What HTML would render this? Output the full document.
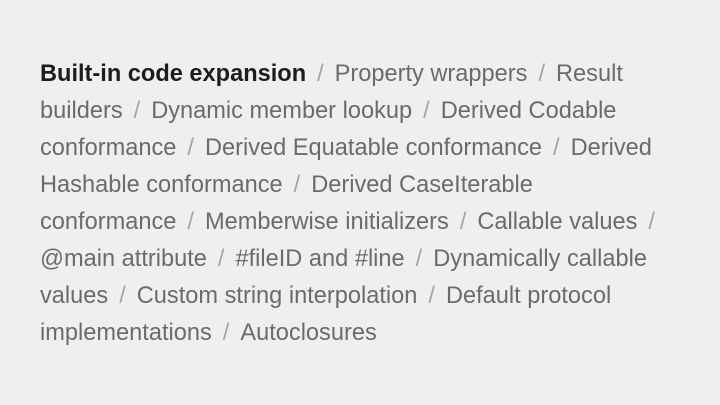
<!DOCTYPE html>
<html><head><style>
html,body{margin:0;padding:0;}
body{width:720px;height:405px;background:#efefef;position:relative;overflow:hidden;font-family:"Liberation Sans",sans-serif;font-size:23.6px;color:#6b6b6b;}
.l{position:absolute;left:40px;white-space:nowrap;line-height:37px;height:37px;}
.s{color:#a5a5a5;padding:0 11px;}
b{color:#1d1d1f;}
</style></head><body>
<div class="l" style="top:56px"><b>Built-in code expansion</b><span class="s">/</span>Property wrappers<span class="s">/</span>Result</div>
<div class="l" style="top:93px">builders<span class="s">/</span>Dynamic member lookup<span class="s">/</span>Derived Codable</div>
<div class="l" style="top:130px">conformance<span class="s">/</span>Derived Equatable conformance<span class="s">/</span>Derived</div>
<div class="l" style="top:167px">Hashable conformance<span class="s">/</span>Derived CaseIterable</div>
<div class="l" style="top:204px">conformance<span class="s">/</span>Memberwise initializers<span class="s">/</span>Callable values<span class="s">/</span></div>
<div class="l" style="top:241px">@main attribute<span class="s">/</span>#fileID and #line<span class="s">/</span>Dynamically callable</div>
<div class="l" style="top:278px">values<span class="s">/</span>Custom string interpolation<span class="s">/</span>Default protocol</div>
<div class="l" style="top:315px">implementations<span class="s">/</span>Autoclosures</div>
</body></html>
